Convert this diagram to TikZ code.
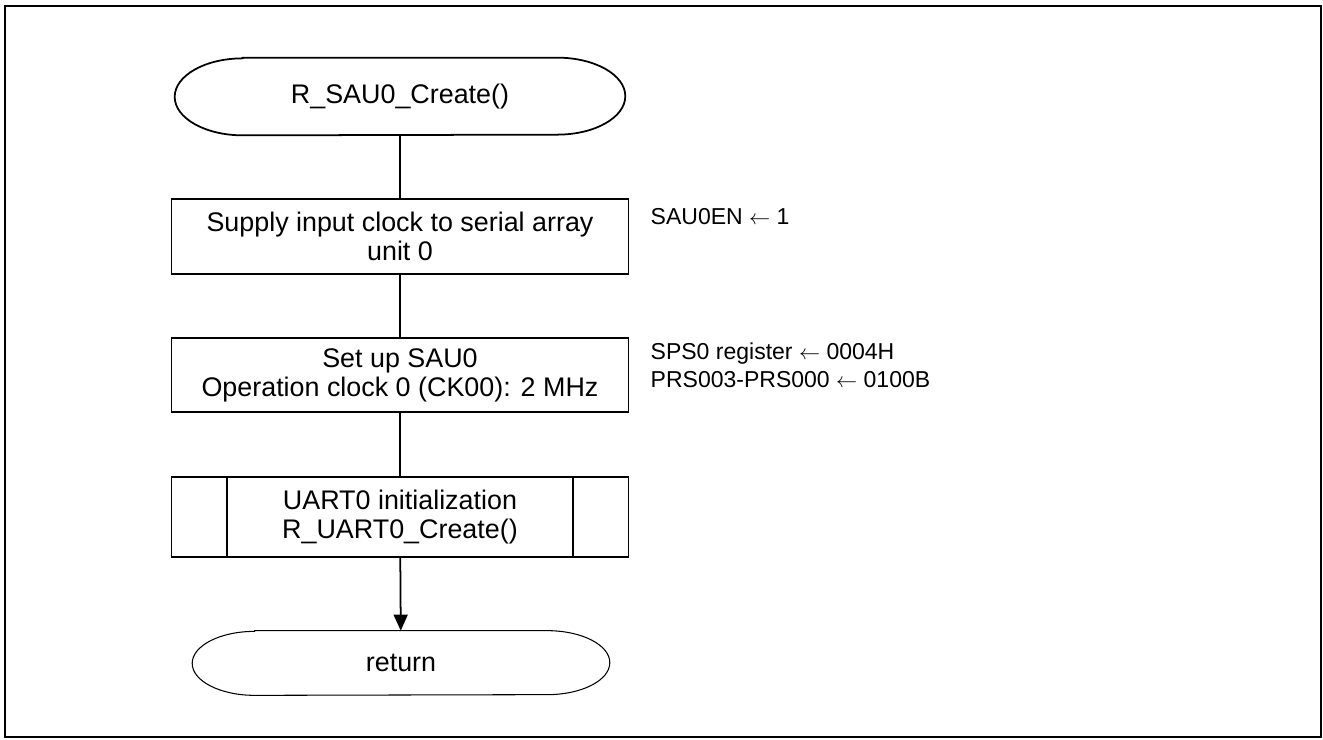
\documentclass[tikz,border=0pt]{standalone}
\usepackage{fontspec}
\setmainfont{Liberation Sans}
\usepackage{tikz}
\usetikzlibrary{arrows.meta}

\tikzset{
  procbox/.style={draw, line width=1pt, rectangle, align=center,
    minimum width=9.14cm, font=\fontsize{15.3}{16.5}\selectfont},
  termbox/.style={rectangle, align=center, font=\fontsize{15.3}{16.5}\selectfont},
  note/.style={anchor=north west, inner sep=0pt, align=left,
    font=\fontsize{13.1}{15.9}\selectfont},
  flow/.style={line width=1pt}
}

% outline of a terminal: node name, x radius, y radius
\newcommand{\termedge}[3]{%
  \draw ([xshift=#2]#1.north west) -- ([xshift=-#2]#1.north east)
    arc[start angle=90, end angle=-90, x radius=#2, y radius=#3]
    -- ([xshift=#2]#1.south west)
    arc[start angle=270, end angle=90, x radius=#2, y radius=#3] -- cycle;}

\begin{document}
\begin{tikzpicture}[x=0.02cm, y=-0.02cm]
\useasboundingbox (0,0) rectangle (1323,740);
\draw[line width=1.1pt] (5,6) rectangle (1321,737);

\node[termbox, minimum width=9cm, minimum height=1.54cm] (start) at (400,96.5) {R\_SAU0\_Create()};
\begin{scope}[line width=1pt]
\termedge{start}{1.36cm}{0.77cm}
\end{scope}

\node[procbox, minimum height=1.5cm] (clk) at (400,236.5)
  {Supply input clock to serial array\\unit 0};
\node[procbox, minimum height=1.48cm] (sau) at (400,375)
  {Set up SAU0\\Operation clock 0 (CK00): 2 MHz};
\node[procbox, minimum height=1.6cm] (uart) at (400,517)
  {UART0 initialization\\R\_UART0\_Create()};
\draw[line width=1pt] ([xshift=1.12cm]uart.north west) -- ([xshift=1.12cm]uart.south west);
\draw[line width=1pt] ([xshift=-1.12cm]uart.north east) -- ([xshift=-1.12cm]uart.south east);

\node[termbox, minimum width=8.34cm, minimum height=1.28cm] (ret) at (401,663) {return};
\begin{scope}[line width=0.6pt]
\termedge{ret}{1.25cm}{0.64cm}
\end{scope}

\draw[flow] (start) -- (clk);
\draw[flow] (clk) -- (sau);
\draw[flow] (sau) -- (uart);
\draw[flow, -{Triangle[length=0.32cm, width=0.28cm]}] (uart) -- (ret);

\node[note] (n1) at ([xshift=0.42cm, yshift=-0.2cm]clk.north east) {SAU0EN $\leftarrow$ 1};
\node[note] (n2) at ([xshift=0.42cm, yshift=-0.1cm]sau.north east)
  {SPS0 register $\leftarrow$ 0004H\\PRS003-PRS000 $\leftarrow$ 0100B};
\end{tikzpicture}
\end{document}
